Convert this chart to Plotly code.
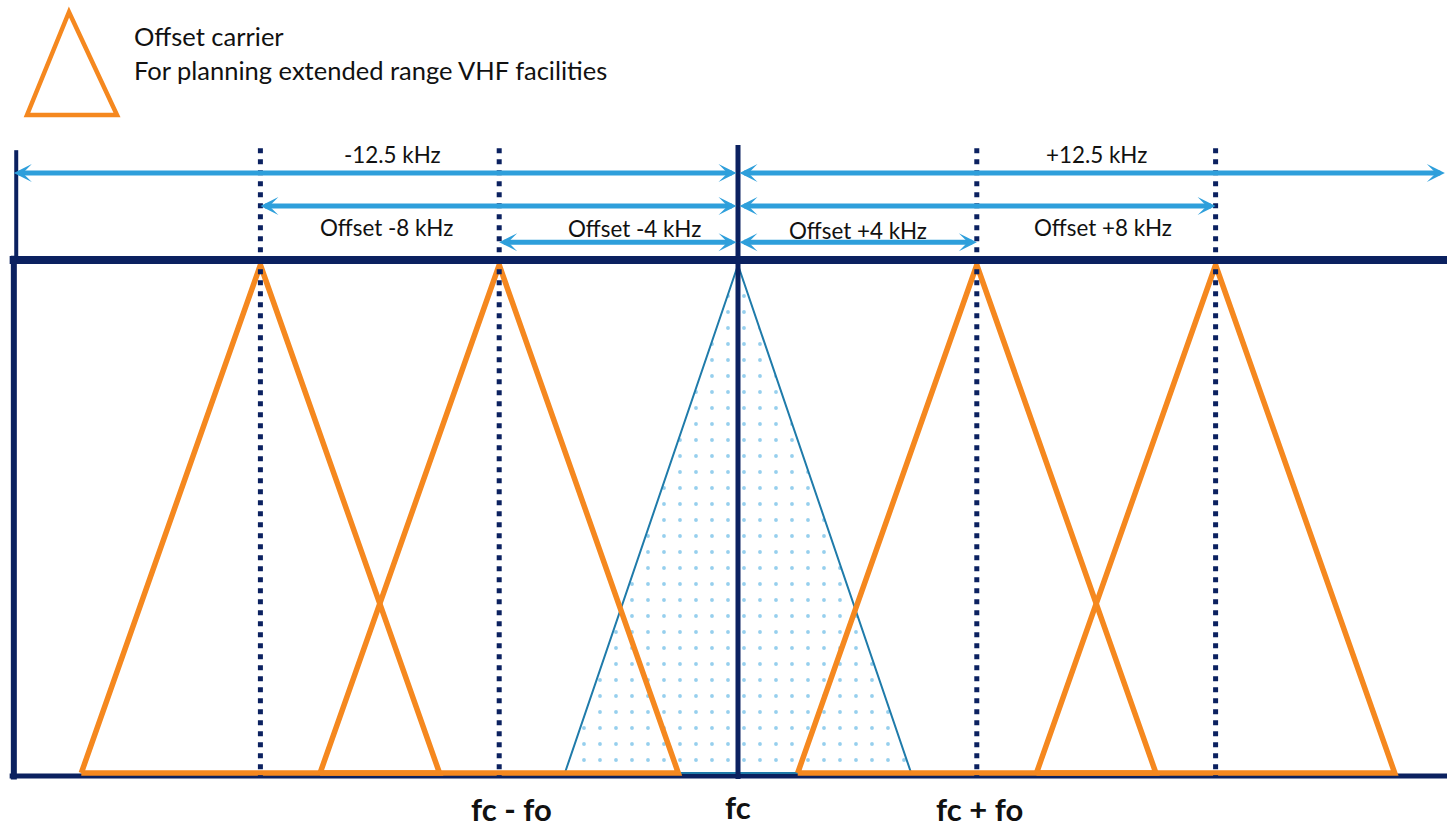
import plotly.graph_objects as go

# ---------------- data (kHz relative to carrier fc) ----------------
carrier_offsets_khz = [-8, -4, 4, 8]          # offset carriers (orange)
carrier_halfwidth_khz = 3.0                    # half base width of offset-carrier triangles
main_halfwidth_khz = 2.9                       # half base width of main carrier (fc)
box_left_khz = -12.13                          # left channel edge as drawn
box_right_khz = 11.84                          # right channel edge as drawn (clipped)

span_labels = ["-12.5 kHz", "+12.5 kHz", "Offset -8 kHz", "Offset +8 kHz",
               "Offset -4 kHz", "Offset +4 kHz"]
span_ends_khz = [box_left_khz, box_right_khz, -8, 8, -4, 4]
span_row_level = [1.181, 1.181, 1.116, 1.116, 1.045, 1.045]
span_label_x = [-5.78, 6.01, -5.88, 6.11, -1.74, 2.01]
span_label_level = [1.217, 1.217, 1.073, 1.073, 1.071, 1.067]

bottom_labels = ["fc - fo", "fc", "fc + fo"]
bottom_label_x = [-3.79, 0.0, 4.05]
bottom_label_level = [-0.071, -0.066, -0.071]

legend_lines = ["Offset carrier", "For planning extended range VHF facilities"]

# ---------------- styles ----------------
NAVY = "#0B2160"
ORANGE = "#F5881F"
ARROW_BLUE = "#2E9FDB"
TRI_BLUE = "#1F7BAA"
TEXT = "#111111"
FONT = "Lato"

fig = go.Figure()

# main carrier triangle (dotted fill)
fig.add_trace(go.Scatter(
    x=[-main_halfwidth_khz, 0, main_halfwidth_khz, -main_halfwidth_khz],
    y=[0, 1, 0, 0], mode="lines", fill="toself",
    line=dict(color=TRI_BLUE, width=2),
    fillcolor="white",
    fillpattern=dict(shape=".", fgcolor=ARROW_BLUE, bgcolor="white", size=16, solidity=0.045),
    hoverinfo="skip", showlegend=False))

# offset carrier triangles
for c in carrier_offsets_khz:
    fig.add_trace(go.Scatter(
        x=[c - carrier_halfwidth_khz, c, c + carrier_halfwidth_khz, c - carrier_halfwidth_khz],
        y=[0, 1, 0, 0], mode="lines",
        line=dict(color=ORANGE, width=5.5),
        hoverinfo="skip", showlegend=False))

shapes = []
# box lines
shapes.append(dict(type="line", xref="x", yref="y", x0=box_left_khz - 0.07, x1=14, y0=1.01, y1=1.01,
                   line=dict(color=NAVY, width=8), layer="below"))
shapes.append(dict(type="line", xref="x", yref="y", x0=box_left_khz - 0.07, x1=14, y0=-0.006, y1=-0.006,
                   line=dict(color=NAVY, width=5), layer="below"))
shapes.append(dict(type="line", xref="x", yref="y", x0=box_left_khz + 0.04, x1=box_left_khz + 0.04,
                   y0=1.226, y1=1.01, line=dict(color=NAVY, width=4), layer="above"))
shapes.append(dict(type="line", xref="x", yref="y", x0=box_left_khz, x1=box_left_khz,
                   y0=1.018, y1=-0.013, line=dict(color=NAVY, width=6), layer="above"))
# centre carrier line
shapes.append(dict(type="line", xref="x", yref="y", x0=0, x1=0, y0=1.236, y1=-0.012,
                   line=dict(color=NAVY, width=5), layer="above"))
# dotted offset lines
for c in carrier_offsets_khz:
    shapes.append(dict(type="line", xref="x", yref="y", x0=c, x1=c, y0=1.230, y1=-0.010,
                       line=dict(color=NAVY, width=5, dash="5px,6px"), layer="above"))
# legend triangle (paper coordinates)
shapes.append(dict(type="path", xref="paper", yref="paper",
                   path="M %f,%f L %f,%f L %f,%f Z" % (27 / 1447, 1 - 115 / 829, 69 / 1447, 1 - 12 / 829,
                                                      117 / 1447, 1 - 115 / 829),
                   line=dict(color=ORANGE, width=4.5)))

annotations = []
# span arrows (double-headed, from fc to each end)
for end, lvl in zip(span_ends_khz, span_row_level):
    annotations.append(dict(x=end, y=lvl, ax=0, ay=lvl, xref="x", yref="y", axref="x", ayref="y",
                            text="", font=dict(size=1), showarrow=True, arrowhead=3, startarrowhead=3,
                            arrowside="end+start", arrowwidth=5, arrowsize=0.6, startarrowsize=0.6,
                            arrowcolor=ARROW_BLUE))
for lab, lx, ly in zip(span_labels, span_label_x, span_label_level):
    annotations.append(dict(x=lx, y=ly, xref="x", yref="y", text=lab, showarrow=False,
                            font=dict(family=FONT, size=22.4, color=TEXT)))
for lab, lx, ly in zip(bottom_labels, bottom_label_x, bottom_label_level):
    annotations.append(dict(x=lx, y=ly, xref="x", yref="y", text="<b>%s</b>" % lab, showarrow=False,
                            borderpad=0, font=dict(family=FONT, size=31, color=TEXT)))
for i, lab in enumerate(legend_lines):
    annotations.append(dict(x=132 / 1447, y=1 - (36 + 34 * i) / 829, xref="paper", yref="paper",
                            text=lab, showarrow=False, xanchor="left", yanchor="middle",
                            font=dict(family=FONT, size=25.5, color=TEXT)))

px_per_khz = 59.7
fig.update_layout(
    width=1447, height=829,
    margin=dict(l=0, r=0, t=0, b=0),
    paper_bgcolor="white", plot_bgcolor="white",
    xaxis=dict(range=[-738 / px_per_khz, (1447 - 738) / px_per_khz], visible=False, fixedrange=True),
    yaxis=dict(range=[-56 / 508, 773 / 508], visible=False, fixedrange=True),
    shapes=shapes, annotations=annotations, showlegend=False,
)

fig.write_html("out.html", config={"displayModeBar": False},
               post_script="document.body.style.margin='0';document.body.style.overflow='hidden';")
